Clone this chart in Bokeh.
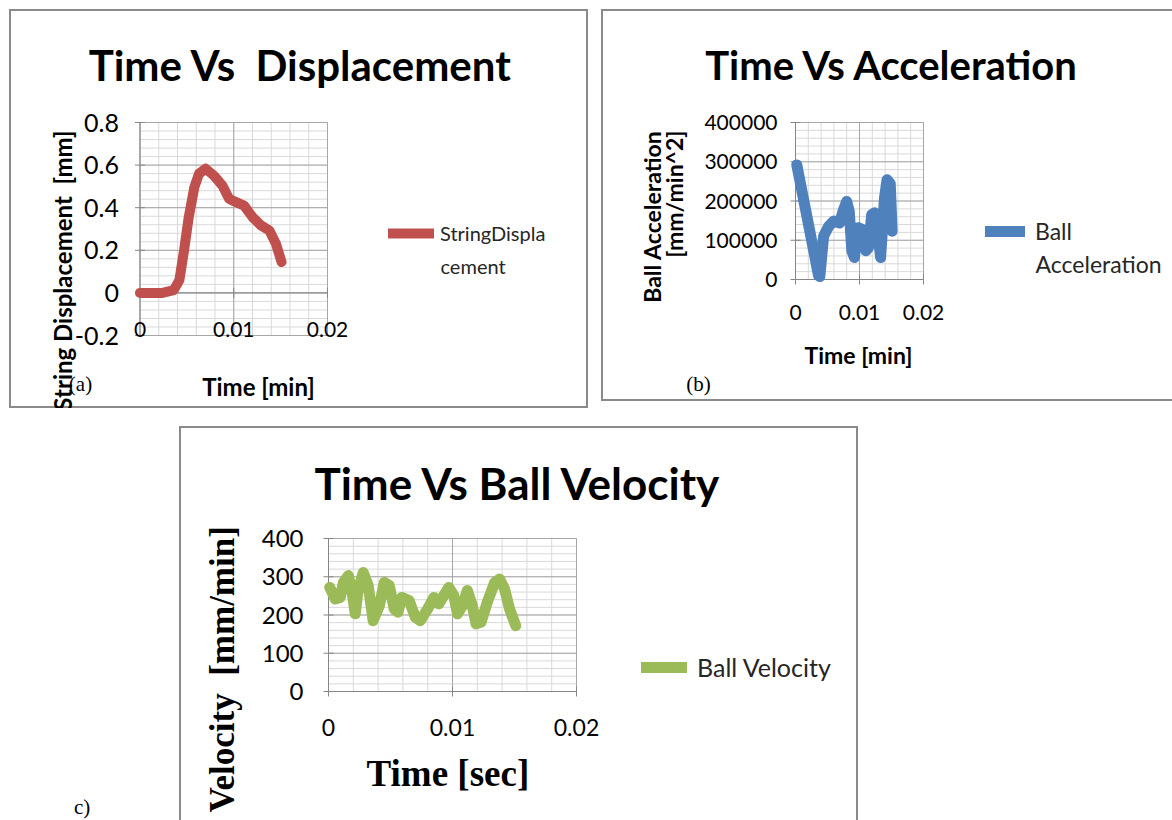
import numpy as np
from math import pi
from bokeh.plotting import figure
from bokeh.core.properties import value
from bokeh.models import Range1d, Spacer, Div, Label, Legend, LegendItem
from bokeh.layouts import row, column
from bokeh.embed import file_html
from bokeh.resources import INLINE

# ---------------- data ----------------
disp_time = [0.0, 0.0024, 0.0036, 0.0042, 0.0047, 0.0052, 0.0058, 0.0063, 0.0070, 0.0079,
             0.0088, 0.0095, 0.0102, 0.0111, 0.0120, 0.0129, 0.0138, 0.0145, 0.0151]
disp_mm = [0.0, 0.0, 0.013, 0.06, 0.2, 0.356, 0.497, 0.56, 0.583, 0.55,
           0.503, 0.442, 0.427, 0.41, 0.356, 0.317, 0.293, 0.231, 0.145]

acc_time = [0.0002, 0.0036, 0.0038, 0.0044, 0.0052, 0.0060, 0.0069, 0.0075, 0.0080, 0.0084,
            0.0088, 0.0092, 0.0098, 0.0104, 0.0110, 0.0114, 0.0119, 0.0124, 0.0130, 0.0133,
            0.0139, 0.0143, 0.0148, 0.0151]
acc_val = [292000, 10000, 7500, 111000, 136000, 149000, 144000, 178000, 199000, 174000,
           73000, 56000, 132000, 128000, 73000, 81000, 165000, 170000, 98000, 56000,
           207000, 254000, 245000, 123000]

vel_time = [0.0001, 0.00054, 0.00095, 0.0012, 0.0016, 0.0019, 0.00216, 0.0024, 0.0028, 0.0032,
            0.0036, 0.0041, 0.0045, 0.0049, 0.0053, 0.0056, 0.0059, 0.0065, 0.0070, 0.0074,
            0.0080, 0.0085, 0.0089, 0.0093, 0.0097, 0.0101, 0.0104, 0.0108, 0.0112, 0.0116,
            0.0119, 0.0123, 0.0128, 0.0134, 0.0138, 0.0142, 0.0146, 0.0151]
vel_val = [272, 242, 246, 285, 303, 259, 203, 268, 311, 277,
           185, 224, 285, 277, 216, 207, 246, 238, 194, 185,
           216, 246, 229, 251, 272, 251, 203, 224, 264, 224,
           177, 181, 233, 285, 294, 268, 216, 172]

time_ticks = [0, 0.01, 0.02]
time_labels = ["0", "0.01", "0.02"]
disp_ticks = [-0.2, 0, 0.2, 0.4, 0.6, 0.8]
disp_labels = ["-0.2", "0", "0.2", "0.4", "0.6", "0.8"]
acc_ticks = [0, 100000, 200000, 300000, 400000]
acc_labels = ["0", "100000", "200000", "300000", "400000"]
vel_ticks = [0, 100, 200, 300, 400]
vel_labels = ["0", "100", "200", "300", "400"]

# ---------------- style ----------------
SANS = "Lato"
SERIF = "Liberation Serif"
MAJOR_GRID = "#a6a6a6"
MINOR_GRID = "#d9d9d9"
AXIS = "#868686"
PANEL_BORDER = "#8a8a8a"
TXT = "#000000"
LEG_TXT = "#262626"
NB = "\u00a0"


def minor_of(ticks):
    return list(np.linspace(ticks[0], ticks[-1], 5 * (len(ticks) - 1) + 1))


def make_panel(w, h, inner, xt, yt, shadow):
    """Figure whose frame is the whole panel; the chart's plot area sits at `inner` (canvas px)."""
    ix0, ix1, iy0, iy1 = inner
    sx = (xt[-1] - xt[0]) / (ix1 - ix0)
    sy = (yt[-1] - yt[0]) / (iy1 - iy0)
    p = figure(width=w, height=h,
               x_range=Range1d(xt[0] - ix0 * sx, xt[-1] + (w - ix1) * sx),
               y_range=Range1d(yt[0] - (h - iy1) * sy, yt[-1] + iy0 * sy),
               x_axis_type=None, y_axis_type=None, output_backend="svg",
               toolbar_location=None, title_location=None,
               min_border=0, min_border_left=0, min_border_right=0, min_border_top=0, min_border_bottom=0)
    p.border_fill_color = None
    p.background_fill_color = None
    p.outline_line_color = None
    p.styles = {"box-shadow": shadow}
    xm, ym = minor_of(xt), minor_of(yt)
    for xs, ys, col in ((xm, ym, MINOR_GRID), (xt, yt, MAJOR_GRID)):
        p.segment(x0=xs, y0=[yt[0]] * len(xs), x1=xs, y1=[yt[-1]] * len(xs), line_color=col, line_width=1)
        p.segment(x0=[xt[0]] * len(ys), y0=ys, x1=[xt[-1]] * len(ys), y1=ys, line_color=col, line_width=1)
    return p


def add_axes(p, xt, xl, yt, yl, x_at, xlab_off, ylab_off, xfs, yfs):
    p.segment(x0=[xt[0]], y0=[yt[0]], x1=[xt[0]], y1=[yt[-1]], line_color=AXIS, line_width=1)
    p.segment(x0=[xt[0]], y0=[x_at], x1=[xt[-1]], y1=[x_at], line_color=AXIS, line_width=1)
    p.scatter(x=[xt[0]] * len(yt), y=yt, marker="dash", size=10, line_color=AXIS, line_width=1)
    p.scatter(x=xt, y=[x_at] * len(xt), marker="dash", angle=pi / 2, size=10, line_color=AXIS, line_width=1)
    p.text(x=[xt[0]] * len(yt), y=yt, text=yl, x_offset=ylab_off, text_align="right",
           text_baseline="middle", text_font=value(SANS), text_font_size=value(yfs), text_color=TXT)
    p.text(x=xt, y=[x_at] * len(xt), text=xl, y_offset=xlab_off, text_align="center",
           text_baseline="middle", text_font=value(SANS), text_font_size=value(xfs), text_color=TXT)


def text_at(p, x, y, text, font, size, bold=False, angle=0, align="center", color=TXT):
    """Text placed in canvas pixels (from the panel's top-left corner)."""
    p.add_layout(Label(x=x, y=y, x_units="canvas", y_units="canvas", text=text,
                       text_font=font, text_font_size=size,
                       text_font_style="bold" if bold else "normal",
                       text_align=align, text_baseline="middle", angle=angle,
                       text_color=color))


def add_legend(p, renderer, label, loc, glyph_w, glyph_h, standoff, fs):
    lg = Legend(items=[LegendItem(label=label, renderers=[renderer])], location=loc,
                border_line_color=None, background_fill_alpha=0, padding=0, margin=0,
                glyph_width=glyph_w, glyph_height=glyph_h, label_height=glyph_h, label_standoff=standoff,
                label_text_font=SANS, label_text_font_size=fs, label_text_color=LEG_TXT)
    p.add_layout(lg)


# ---------------- (a) Time vs Displacement ----------------
pa = make_panel(579, 399, (130.5, 318, 113, 326), time_ticks, disp_ticks, f"inset 0 0 0 2px {PANEL_BORDER}")
add_axes(pa, time_ticks, time_labels, disp_ticks, disp_labels, 0, 37, -21, "21px", "25px")
ra = pa.line(disp_time, disp_mm, line_width=10, color="#C0504D", line_join="round", line_cap="round")
add_legend(pa, ra, "StringDispla", (379, 163), 46, 24, 6, "20px")
text_at(pa, 431, 256, "cement", SANS, "20px", align="left", color=LEG_TXT)
text_at(pa, 291, 55, "Time Vs" + NB + " Displacement", SANS, "42px", bold=True)
text_at(pa, 249, 377, "Time [min]", SANS, "24px", bold=True)
text_at(pa, 71, 374, "(a)", SERIF, "21px")
text_at(pa, 53, 121, "String Displacement" + NB + NB + "[mm]", SANS, "24px", bold=True,
        angle=pi / 2, align="right")

# ---------------- (b) Time vs Acceleration ----------------
pb = make_panel(571, 392, (194, 322, 113, 270), time_ticks, acc_ticks,
                f"inset 2px 0 0 {PANEL_BORDER}, inset 0 2px 0 {PANEL_BORDER}, inset 0 -2px 0 {PANEL_BORDER}")
add_axes(pb, time_ticks, time_labels, acc_ticks, acc_labels, 0, 33, -18, "21px", "21px")
rb = pb.line(acc_time, acc_val, line_width=11, color="#4F81BD", line_join="round", line_cap="round")
add_legend(pb, rb, "Ball", (384, 156), 40, 28, 10, "23px")
text_at(pb, 434, 254, "Acceleration", SANS, "23px", align="left", color=LEG_TXT)
text_at(pb, 291, 55, "Time Vs Acceleration", SANS, "40px", bold=True)
text_at(pb, 257, 345, "Time [min]", SANS, "23px", bold=True)
text_at(pb, 97, 374, "(b)", SERIF, "21px")
text_at(pb, 50, 121, "Ball Acceleration", SANS, "23px", bold=True, angle=pi / 2, align="right")
text_at(pb, 72, 121, "[mm/min^2]", SANS, "23px", bold=True, angle=pi / 2, align="right")

# ---------------- (c) Time vs Ball Velocity ----------------
pc = make_panel(679, 394, (149, 397, 112, 265), time_ticks, vel_ticks,
                f"inset 2px 0 0 {PANEL_BORDER}, inset -2px 0 0 {PANEL_BORDER}, inset 0 2px 0 {PANEL_BORDER}")
add_axes(pc, time_ticks, time_labels, vel_ticks, vel_labels, 0, 36, -25, "23px", "24px")
rc = pc.line(vel_time, vel_val, line_width=11, color="#9BBB59", line_join="round", line_cap="round")
add_legend(pc, rc, "Ball Velocity", (462, 138), 46, 30, 10, "25px")
text_at(pc, 339, 56, "Time Vs Ball Velocity", SANS, "44px", bold=True)
text_at(pc, 273, 347, "Time  [sec]", SERIF, "37px", bold=True)
text_at(pc, 43, 99, "Ball Velocity" + NB + NB + "[mm/min]", SERIF, "35px", bold=True,
        angle=pi / 2, align="right")

c_note = Div(text="<div style=\"margin-left:74px;margin-top:366px;font-family:'Liberation Serif';"
                  "font-size:21px;color:#000;\">c)</div>", width=179, height=394, margin=0)

layout = column(
    Spacer(height=9),
    row(Spacer(width=9), pa, Spacer(width=13), pb),
    Spacer(height=18),
    row(c_note, pc),
)

open("out.html", "w").write(file_html(layout, INLINE))
